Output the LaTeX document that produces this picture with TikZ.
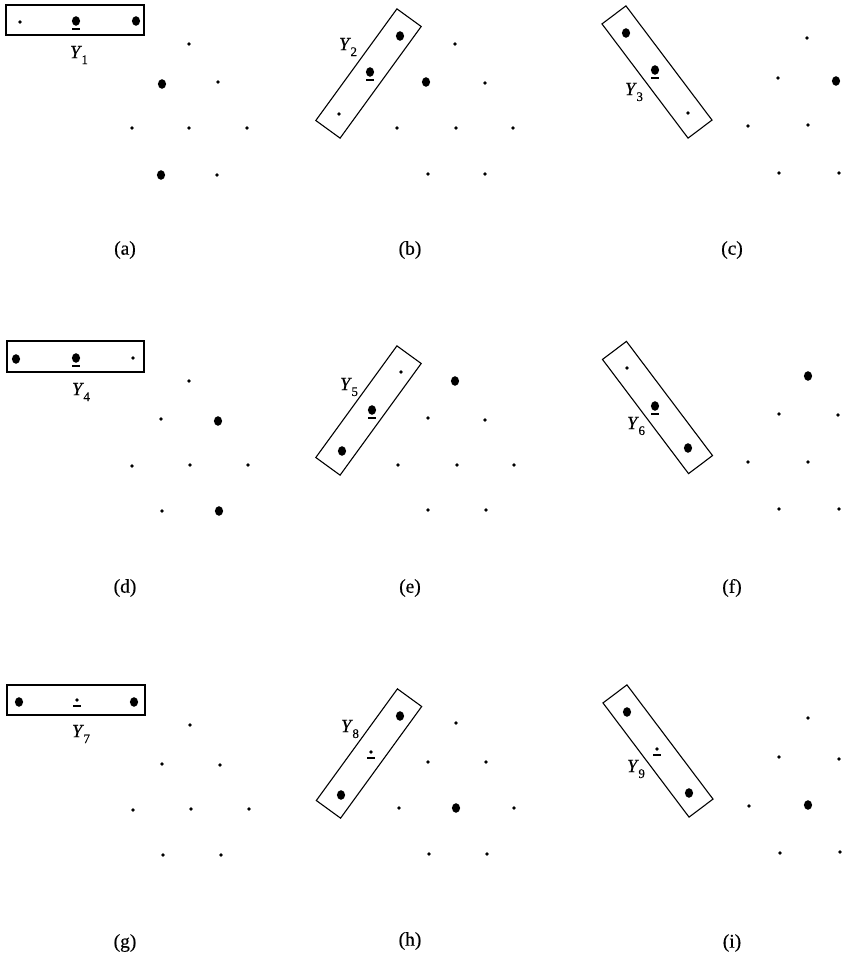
\documentclass[tikz,border=0pt]{standalone}
\usepackage{fontspec}
\setmainfont{Liberation Serif}[FakeBold=0.4]
\newfontfamily\lblfont{Liberation Serif}[AutoFakeBold=0.5]
\usetikzlibrary{shapes.geometric}
\newcommand{\ylbl}[1]{\textit{Y}\kern-0.5pt\raisebox{-0.32em}{\fontsize{13}{13}\selectfont #1}}
\begin{document}
\begin{tikzpicture}[x=1pt,y=-1pt,
  sdot/.style={circle,fill=black,inner sep=0pt,minimum size=3.6pt},
  bdot/.style={ellipse,fill=black,inner sep=0pt,minimum width=8.2pt,minimum height=9.6pt},
  hbox/.style={draw,line width=1.1pt,inner sep=0pt},
  lbox/.style={draw,line width=1.1pt,inner sep=0pt,minimum width=138pt,minimum height=30pt,rotate=54},
  rbox/.style={draw,line width=1.1pt,inner sep=0pt,minimum width=143pt,minimum height=30pt,rotate=-53},
  uline/.style={line width=1.1pt},
  ylab/.style={font=\fontsize{18.5}{21}\selectfont,inner sep=0pt},
  plab/.style={font=\fontsize{19.5}{22}\selectfont,inner sep=0pt}]
\useasboundingbox (0,0) rectangle (865,962);

% ---------- (a) ----------
\node[hbox,minimum width=138pt,minimum height=30pt] (boxa) at (75,20) {};
\node[sdot] (ia1) at (20,22) {};
\node[bdot] (ia2) at (76,21) {};
\node[bdot] (ia3) at (136,21) {};
\draw[uline] ([yshift=-8pt,xshift=-4pt]ia2.center) -- ([yshift=-8pt,xshift=4pt]ia2.center);
\node[ylab] (ya) at (79,55) {\ylbl{1}};
\node[sdot] (la1) at (189,44) {};
\node[bdot] (la2) at (162,84) {};
\node[sdot] (la3) at (218,82) {};
\node[sdot] (la4) at (132,128) {};
\node[sdot] (la5) at (189,128) {};
\node[sdot] (la6) at (247,128) {};
\node[bdot] (la7) at (161,175) {};
\node[sdot] (la8) at (217,175) {};
\node[plab] (pa) at (125,250) {(a)};

% ---------- (b) ----------
\node[lbox] (boxb) at (368.5,73.5) {};
\node[bdot] (ib1) at (400,36) {};
\node[bdot] (ib2) at (370,72) {};
\node[sdot] (ib3) at (339,114) {};
\draw[uline] ([yshift=-8pt,xshift=-4pt]ib2.center) -- ([yshift=-8pt,xshift=4pt]ib2.center);
\node[ylab] (yb) at (348,47) {\ylbl{2}};
\node[sdot] (lb1) at (455,44) {};
\node[bdot] (lb2) at (426,82) {};
\node[sdot] (lb3) at (485,83) {};
\node[sdot] (lb4) at (397,128) {};
\node[sdot] (lb5) at (456,128) {};
\node[sdot] (lb6) at (513,128) {};
\node[sdot] (lb7) at (428,174) {};
\node[sdot] (lb8) at (485,174) {};
\node[plab] (pb) at (410,250) {(b)};

% ---------- (c) ----------
\node[rbox] (boxc) at (657,72) {};
\node[bdot] (ic1) at (626,33) {};
\node[bdot] (ic2) at (655,70) {};
\node[sdot] (ic3) at (688,113) {};
\draw[uline] ([yshift=-8pt,xshift=-4pt]ic2.center) -- ([yshift=-8pt,xshift=4pt]ic2.center);
\node[ylab] (yc) at (634,92) {\ylbl{3}};
\node[sdot] (lc1) at (807,38) {};
\node[sdot] (lc2) at (778,78) {};
\node[bdot] (lc3) at (836,81) {};
\node[sdot] (lc4) at (748,126) {};
\node[sdot] (lc5) at (808,125) {};
\node[sdot] (lc7) at (779,173) {};
\node[sdot] (lc8) at (839,173) {};
\node[plab] (pc) at (732,250) {(c)};

% ---------- (d) ----------
\node[hbox,minimum width=137pt,minimum height=31pt] (boxd) at (75.5,356.5) {};
\node[bdot] (id1) at (16,359) {};
\node[bdot] (id2) at (76,358) {};
\node[sdot] (id3) at (133,358) {};
\draw[uline] ([yshift=-8pt,xshift=-4pt]id2.center) -- ([yshift=-8pt,xshift=4pt]id2.center);
\node[ylab] (yd) at (81,392) {\ylbl{4}};
\node[sdot] (ld1) at (189,381) {};
\node[sdot] (ld2) at (161,419) {};
\node[bdot] (ld3) at (218,421) {};
\node[sdot] (ld4) at (132,466) {};
\node[sdot] (ld5) at (190,465) {};
\node[sdot] (ld6) at (248,465) {};
\node[sdot] (ld7) at (162,511) {};
\node[bdot] (ld8) at (219,511) {};
\node[plab] (pd) at (125,588) {(d)};

% ---------- (e) ----------
\node[lbox] (boxe) at (368.5,410.5) {};
\node[sdot] (ie1) at (401,372) {};
\node[bdot] (ie2) at (372,410) {};
\node[bdot] (ie3) at (342,451) {};
\draw[uline] ([yshift=-8pt,xshift=-4pt]ie2.center) -- ([yshift=-8pt,xshift=4pt]ie2.center);
\node[ylab] (ye) at (349,387) {\ylbl{5}};
\node[bdot] (le1) at (455,381) {};
\node[sdot] (le2) at (428,418) {};
\node[sdot] (le3) at (485,420) {};
\node[sdot] (le4) at (398,465) {};
\node[sdot] (le5) at (457,465) {};
\node[sdot] (le6) at (514,465) {};
\node[sdot] (le7) at (428,510) {};
\node[sdot] (le8) at (486,510) {};
\node[plab] (pe) at (410,588) {(e)};

% ---------- (f) ----------
\node[rbox] (boxf) at (657.5,407.5) {};
\node[sdot] (if1) at (627,368) {};
\node[bdot] (if2) at (655,406) {};
\node[bdot] (if3) at (688,448) {};
\draw[uline] ([yshift=-8pt,xshift=-4pt]if2.center) -- ([yshift=-8pt,xshift=4pt]if2.center);
\node[ylab] (yf) at (636,426) {\ylbl{6}};
\node[bdot] (lf1) at (808,376) {};
\node[sdot] (lf2) at (779,414) {};
\node[sdot] (lf3) at (838,415) {};
\node[sdot] (lf4) at (748,462) {};
\node[sdot] (lf5) at (808,462) {};
\node[sdot] (lf7) at (779,509) {};
\node[sdot] (lf8) at (839,509) {};
\node[plab] (pf) at (732,588) {(f)};

% ---------- (g) ----------
\node[hbox,minimum width=138pt,minimum height=30pt] (boxg) at (76,700) {};
\node[bdot] (ig1) at (19,702) {};
\node[sdot] (ig2) at (77,700) {};
\node[bdot] (ig3) at (134,702) {};
\draw[uline] ([yshift=-6pt,xshift=-4pt]ig2.center) -- ([yshift=-6pt,xshift=4pt]ig2.center);
\node[ylab] (yg) at (81,734) {\ylbl{7}};
\node[sdot] (lg1) at (190,725) {};
\node[sdot] (lg2) at (162,764) {};
\node[sdot] (lg3) at (220,765) {};
\node[sdot] (lg4) at (133,810) {};
\node[sdot] (lg5) at (191,809) {};
\node[sdot] (lg6) at (249,809) {};
\node[sdot] (lg7) at (163,855) {};
\node[sdot] (lg8) at (221,855) {};
\node[plab] (pg) at (125,943) {(g)};

% ---------- (h) ----------
\node[lbox] (boxh) at (369,753.5) {};
\node[bdot] (ih1) at (400,716) {};
\node[sdot] (ih2) at (371,752) {};
\node[bdot] (ih3) at (341,795) {};
\draw[uline] ([yshift=-6pt,xshift=-4pt]ih2.center) -- ([yshift=-6pt,xshift=4pt]ih2.center);
\node[ylab] (yh) at (350,729) {\ylbl{8}};
\node[sdot] (lh1) at (456,723) {};
\node[sdot] (lh2) at (428,762) {};
\node[sdot] (lh3) at (486,762) {};
\node[sdot] (lh4) at (399,808) {};
\node[bdot] (lh5) at (456,808) {};
\node[sdot] (lh6) at (514,808) {};
\node[sdot] (lh7) at (429,854) {};
\node[sdot] (lh8) at (487,854) {};
\node[plab] (ph) at (410,941) {(h)};

% ---------- (i) ----------
\node[rbox] (boxi) at (658,751) {};
\node[bdot] (ii1) at (627,712) {};
\node[sdot] (ii2) at (657,749) {};
\node[bdot] (ii3) at (689,793) {};
\draw[uline] ([yshift=-6pt,xshift=-4pt]ii2.center) -- ([yshift=-6pt,xshift=4pt]ii2.center);
\node[ylab] (yi) at (636,769) {\ylbl{9}};
\node[sdot] (li1) at (808,718) {};
\node[sdot] (li2) at (779,757) {};
\node[sdot] (li3) at (839,759) {};
\node[sdot] (li4) at (749,806) {};
\node[bdot] (li5) at (808,805) {};
\node[sdot] (li7) at (780,853) {};
\node[sdot] (li8) at (840,852) {};
\node[plab] (pi) at (732,943) {(i)};
\end{tikzpicture}
\end{document}
